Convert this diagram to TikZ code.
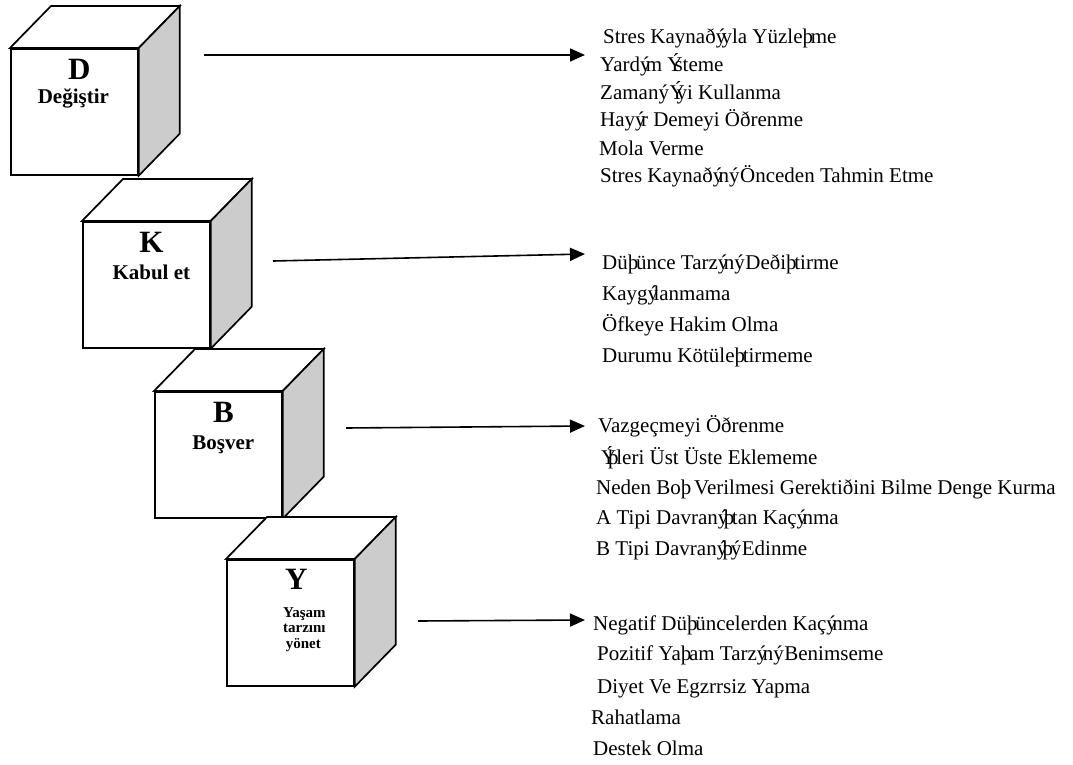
\documentclass[tikz,border=0pt]{standalone}
\usepackage{fontspec}
\setmainfont{Liberation Serif}
\usetikzlibrary{arrows.meta,calc}
\definecolor{sidegray}{HTML}{CCCCCC}
\newcommand\mjy{ý\kern-0.222em}
\newcommand\mjs{þ\kern-0.111em}
\newcommand\mjI{Ý\kern-0.389em}
\newcommand\drawcube[2]{%
  \node[cubeface] (#1) at (#2) {};
  \draw[topface] (#1.north west) -- ++(41,-42) -- ($(#1.north east)+(41,-42)$) -- (#1.north east) -- cycle;
  \draw[sideface] (#1.north east) -- ++(41,-42) -- ($(#1.south east)+(41,-42)$) -- (#1.south east) -- cycle;
}
\begin{document}
\begin{tikzpicture}[x=1pt,y=-1pt,
  cubeface/.style={draw, line width=1.7pt, fill=white, minimum width=127pt, minimum height=126pt, inner sep=0pt, anchor=north west},
  topface/.style={draw, line width=1.7pt, line join=miter, fill=white},
  sideface/.style={draw, line width=1.7pt, line join=miter, fill=sidegray},
  bigletter/.style={font=\fontsize{31}{31}\selectfont\bfseries, anchor=base, inner sep=0pt},
  cubelabel/.style={font=\fontsize{21}{21}\selectfont\bfseries, anchor=base, inner sep=0pt},
  smalllabel/.style={font=\fontsize{15}{15}\selectfont\bfseries, anchor=base, inner sep=0pt},
  listline/.style={font=\fontsize{21}{24}\selectfont, anchor=base west, inner sep=0pt},
  arr/.style={line width=1.6pt, -{Triangle[length=15pt,width=13pt]}}]
\useasboundingbox (0,0) rectangle (1073,765);

% cubes
\drawcube{D}{10,48}
\drawcube{K}{82,221}
\drawcube{B}{154,391}
\drawcube{Y}{226,559}

% cube labels
\node[bigletter] (Dl) at ($(D.north)+(5,32)$) {D};
\node[cubelabel] (Dt) at ($(D.north)+(-1,56)$) {Değiştir};
\node[bigletter] (Kl) at ($(K.north)+(5,31)$) {K};
\node[cubelabel] (Kt) at ($(K.north)+(5,58)$) {Kabul et};
\node[bigletter] (Bl) at ($(B.north)+(5,31)$) {B};
\node[cubelabel] (Bt) at ($(B.north)+(5,58)$) {Boşver};
\node[bigletter] (Yl) at ($(Y.north)+(6,30)$) {Y};
\node[smalllabel] (Yt1) at ($(Y.north)+(14,58)$) {Yaşam};
\node[smalllabel] (Yt2) at ($(Y.north)+(14,73)$) {tarzını};
\node[smalllabel] (Yt3) at ($(Y.north)+(13,89)$) {yönet};

% list 1
\node[listline] (l11) at (603,44) {Stres Kaynað\mjy{}yla Yüzle\mjs{}me};
\node[listline] (l12) at (600,72) {Yard\mjy{}m \mjI{}steme};
\node[listline] (l13) at (600,100) {Zaman\mjy{} \mjI{}yi Kullanma};
\node[listline] (l14) at (600,127) {Hay\mjy{}r Demeyi Öðrenme};
\node[listline] (l15) at (599,155) {Mola Verme};
\node[listline] (l16) at (600,182) {Stres Kaynað\mjy{}n\mjy{} Önceden Tahmin Etme};

% list 2
\node[listline] (l21) at (602,269) {Dü\mjs{}ünce Tarz\mjy{}n\mjy{} Deði\mjs{}tirme};
\node[listline] (l22) at (602,300) {Kayg\mjy{}lanmama};
\node[listline] (l23) at (602,331) {Öfkeye Hakim Olma};
\node[listline] (l24) at (602,362) {Durumu Kötüle\mjs{}tirmeme};

% list 3
\node[listline] (l31) at (598,432) {Vazgeçmeyi Öðrenme};
\node[listline] (l32) at (601,464) {\mjI{}\mjs{}leri Üst Üste Eklememe};
\node[listline] (l33) at (596,494) {Neden Bo\mjs{} Verilmesi Gerektiðini Bilme Denge Kurma};
\node[listline] (l34) at (596,524) {A Tipi Davran\mjy{}\mjs{}tan Kaç\mjy{}nma};
\node[listline] (l35) at (596,555) {B Tipi Davran\mjy{}\mjs{}\mjy{} Edinme};

% list 4
\node[listline] (l41) at (593,630) {Negatif Dü\mjs{}üncelerden Kaç\mjy{}nma};
\node[listline] (l42) at (597,660) {Pozitif Ya\mjs{}am Tarz\mjy{}n\mjy{} Benimseme};
\node[listline] (l43) at (597,693) {Diyet Ve Egzrrsiz Yapma};
\node[listline] (l44) at (591,724) {Rahatlama};
\node[listline] (l45) at (593,755) {Destek Olma};

% arrows
\coordinate (a1s) at (204,55); \coordinate (a1e) at (585,55);
\coordinate (a2s) at (273,261); \coordinate (a2e) at (585,254);
\coordinate (a3s) at (346,428); \coordinate (a3e) at (585,426);
\coordinate (a4s) at (418,621); \coordinate (a4e) at (585,620);
\draw[arr] (a1s) -- (a1e);
\draw[arr] (a2s) -- (a2e);
\draw[arr] (a3s) -- (a3e);
\draw[arr] (a4s) -- (a4e);
\end{tikzpicture}
\end{document}
